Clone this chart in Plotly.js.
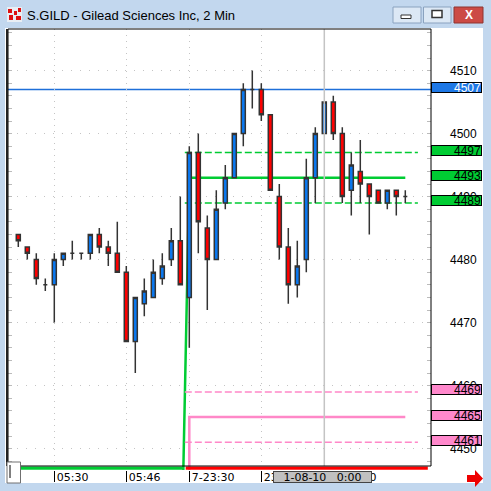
<!DOCTYPE html>
<html>
<head>
<meta charset="utf-8">
<script src="https://cdn.plot.ly/plotly-3.0.1.min.js"></script>
<style>
  html, body { margin: 0; padding: 0; background: #c2d7ee; }
  #chart { width: 491px; height: 491px; }
</style>
</head>
<body>
<div id="chart"></div>
<script>
// 2-minute bars, S.GILD
const barOpen  = [4484,4482,4480,4476,4476,4480,4481,4481,4481,4484,4482,4481,4478,4467,4473,4474,4477,4480,4483,4474,4497,4485,4480,4489,4493,4500,4507,4507,4503,4490,4482,4476,4480,4493,4500,4505,4500,4491,4494,4492,4491,4489,4491,4490];
const barHigh  = [4484,4482,4481,4477,4481,4481,4483,4481,4484,4485,4483,4486,4479,4474,4477,4480,4481,4485,4490,4498,4500,4487,4491,4495,4500,4508,4510,4508,4503,4492,4485,4483,4496,4501,4505,4506,4501,4497,4499,4492,4491,4491,4491,4491];
const barLow   = [4482,4480,4476,4475,4470,4479,4480,4480,4480,4481,4479,4478,4467,4462,4471,4474,4476,4479,4476,4466,4481,4472,4480,4488,4493,4498,4504,4502,4491,4480,4473,4474,4478,4489,4500,4499,4489,4487,4489,4484,4489,4488,4487,4489];
const barClose = [4483,4481,4477,4476,4480,4481,4481,4481,4484,4482,4481,4478,4467,4474,4475,4478,4479,4483,4476,4497,4486,4480,4488,4493,4500,4507,4507,4503,4491,4482,4476,4479,4493,4500,4505,4500,4490,4495,4492,4490,4489,4491,4490,4490];
const barIndex = barOpen.map((_, i) => i);

// time axis
const timeTickIndex = [4, 12, 19, 27, 34];
const timeTickText  = ['05:30', '05:46', '7-23:30', '23:46', '10-00:00'];

// price axis
const priceTicks = [4450, 4460, 4470, 4480, 4490, 4500, 4510];
const lastPrice = 4507;

// green channel (price scale) and pink channel (second scale)
const greenLevels = [4497, 4493, 4489];
const pinkLevels  = [4469, 4465, 4461];
const greenMidX = [18, 19, 43];
const greenMidY = [4423, 4493, 4493];
const pinkMidX  = [19, 19, 43];
const pinkMidY  = [4420, 4465, 4465];
const channelSpan = [18.5, 44.4];

// crosshair
const crossIndex = 34;
const crossLabel = '1-08-10&nbsp;&nbsp;&nbsp;0:00';

// session strip under the plot
const sessionStart = [-0.2, 18.6];
const sessionEnd   = [18.4, 45.5];
const sessionColor = ['#00cc33', '#ff0000'];

// ---- geometry helpers (pixel -> paper) ----
const W = 491, H = 491;
const M = { l: 8, r: 60, t: 29, b: 21 };
const PW = W - M.l - M.r, PH = H - M.t - M.b;
const fx = x => (x - M.l) / PW;
const fy = y => (H - M.b - y) / PH;
const PX = 6.3; // pixels per price unit
const yTop = 4507 + (89.5 - M.t) / PX;
const yBot = yTop - PH / PX;
const xLeft = -10.3 / 9, xRight = (431 - 18.3) / 9;

function rect(x0, y0, x1, y1, fill, line, lw, layer) {
  return { type: 'rect', xref: 'paper', yref: 'paper',
    x0: fx(x0), x1: fx(x1), y0: fy(y1), y1: fy(y0),
    fillcolor: fill, line: { color: line || 'rgba(0,0,0,0)', width: lw || 0 }, layer: layer || 'above' };
}
function seg(x0, y0, x1, y1, color, width, layer) {
  return { type: 'line', xref: 'paper', yref: 'paper',
    x0: fx(x0), x1: fx(x1), y0: fy(y0), y1: fy(y1),
    line: { color: color, width: width }, layer: layer || 'above' };
}
function poly(pts, fill) {
  const d = pts.map((p, i) => (i ? 'L' : 'M') + fx(p[0]) + ',' + fy(p[1])).join(' ') + ' Z';
  return { type: 'path', xref: 'paper', yref: 'paper', path: d, fillcolor: fill, line: { width: 0 }, layer: 'above' };
}
const priceText = v => String(v);

// ---- traces ----
function lineTrace(x, y, color, width, dash, yaxis) {
  return { type: 'scatter', mode: 'lines', x: x, y: y, yaxis: yaxis || 'y',
    line: { color: color, width: width, dash: dash || 'solid' }, hoverinfo: 'skip', showlegend: false };
}
const traces = [];
traces.push(lineTrace(channelSpan, [pinkLevels[0], pinkLevels[0]], '#ff88c8', 1.5, '7px,3px', 'y2'));
traces.push(lineTrace(channelSpan, [pinkLevels[2], pinkLevels[2]], '#ff88c8', 1.5, '7px,3px', 'y2'));
traces.push(lineTrace(pinkMidX, pinkMidY, '#ff88c8', 2.5, 'solid', 'y2'));
traces.push(lineTrace(channelSpan, [greenLevels[0], greenLevels[0]], '#00cc33', 1.5, '7px,3px'));
traces.push(lineTrace(channelSpan, [greenLevels[2], greenLevels[2]], '#00cc33', 1.5, '7px,3px'));
traces.push(lineTrace(greenMidX, greenMidY, '#00cc33', 2.5, 'solid'));
// candles sit on an overlay of the price axis so they draw above the channel lines
traces.push({
  type: 'candlestick', x: barIndex, yaxis: 'y3',
  open: barOpen, high: barHigh, low: barLow, close: barClose,
  increasing: { fillcolor: '#0a78f0', line: { color: '#333333', width: 1.5 } },
  decreasing: { fillcolor: '#ff0000', line: { color: '#333333', width: 1.5 } },
  whiskerwidth: 0, hoverinfo: 'skip', showlegend: false
});

// ---- shapes ----
const shapes = [];
// window client area
shapes.push(rect(5, 28, 483, 483, '#ffffff', null, 0, 'below'));
// last price line
shapes.push({ type: 'line', xref: 'paper', yref: 'y', x0: 0, x1: 1, y0: lastPrice, y1: lastPrice,
  line: { color: '#1e6fd9', width: 1.5 }, layer: 'below' });
// crosshair
shapes.push({ type: 'line', xref: 'x', yref: 'paper', x0: crossIndex, x1: crossIndex, y0: fy(466), y1: 1,
  line: { color: '#c4c4c4', width: 1.5 }, layer: 'above' });
// session strip
sessionStart.forEach((s, i) => {
  shapes.push({ type: 'line', xref: 'x', yref: 'paper', x0: s, x1: sessionEnd[i], y0: fy(468.2), y1: fy(468.2),
    line: { color: sessionColor[i], width: 3.2 }, layer: 'above' });
});
// plot frame
shapes.push(rect(8, 29, 431, 466, 'rgba(0,0,0,0)', '#000000', 1, 'above'));
shapes.push(seg(7, 29, 7, 466, '#222222', 2));
// small box bottom-left with cursor
shapes.push(rect(7, 462, 20.5, 483, '#ffffff', '#707070', 1));
shapes.push(seg(10, 465, 10, 478, '#000000', 1));
// scroll arrow bottom-right
shapes.push(poly([[467, 475], [475, 475], [475, 470], [483, 478.5], [475, 487], [475, 482], [467, 482]], '#ee0000'));
// title bar buttons
shapes.push(rect(393, 7, 421, 23, '#dce8f5', '#8aa2bf', 1));
shapes.push(rect(401, 15, 411, 18.5, '#ffffff', '#333333', 1));
shapes.push(rect(423.5, 7, 451, 23, '#dce8f5', '#8aa2bf', 1));
shapes.push(rect(432, 10.5, 442, 17.5, '#ffffff', '#333333', 1.5));
shapes.push(rect(454, 7, 483, 23, '#cc4b45', '#8e3531', 1));
// window icon
shapes.push(rect(7, 7, 22, 22, '#e9eef4', null, 0));
shapes.push(rect(8, 9, 12, 13, '#dd1111', null, 0));
shapes.push(rect(14, 11, 17, 15, '#dd1111', null, 0));
shapes.push(rect(18, 8, 21, 12, '#dd1111', null, 0));
shapes.push(rect(9, 15, 13, 20, '#dd1111', null, 0));
shapes.push(rect(16, 16, 21, 20, '#dd1111', null, 0));

// ---- annotations ----
const annotations = [];
function priceBox(v, yref, fill, textColor) {
  annotations.push({ xref: 'paper', x: 1, xanchor: 'left', yref: yref, y: v, yanchor: 'middle', yshift: 2,
    text: priceText(v), showarrow: false, width: 49, height: 9, align: 'right',
    bgcolor: fill, bordercolor: '#000000', borderwidth: 1, borderpad: 0,
    font: { family: 'Liberation Sans, Arial, sans-serif', size: 12, color: textColor } });
}
priceBox(lastPrice, 'y', '#1e78e6', '#ffffff');
greenLevels.forEach(v => priceBox(v, 'y', '#00cc33', '#000000'));
pinkLevels.forEach(v => priceBox(v, 'y2', '#ff88cc', '#000000'));
// crosshair time box
annotations.push({ xref: 'x', x: crossIndex, xanchor: 'center', xshift: -1.5, yref: 'paper', y: fy(477), yanchor: 'middle',
  text: crossLabel, showarrow: false, width: 97, height: 10, bgcolor: '#c0c0c0', bordercolor: '#444444',
  borderwidth: 1, borderpad: 0, font: { family: 'DejaVu Sans, sans-serif', size: 11, color: '#000000' } });
// close glyph
annotations.push({ xref: 'paper', yref: 'paper', x: fx(468.5), y: fy(15), xanchor: 'center', yanchor: 'middle',
  text: '<b>X</b>', showarrow: false, font: { family: 'Liberation Sans, Arial, sans-serif', size: 12, color: '#ffffff' } });

const layout = {
  width: W, height: H,
  margin: M,
  paper_bgcolor: '#c2d7ee',
  plot_bgcolor: '#ffffff',
  showlegend: false,
  hovermode: false,
  dragmode: false,
  boxgap: 0.36,
  title: {
    text: 'S.GILD - Gilead Sciences Inc, 2 Min',
    xref: 'container', yref: 'container',
    x: 27 / W, xanchor: 'left', y: 1 - 15 / H, yanchor: 'middle',
    font: { family: 'Liberation Sans, Arial, sans-serif', size: 13, color: '#000000' }
  },
  xaxis: {
    range: [xLeft, xRight], automargin: false, fixedrange: true,
    rangeslider: { visible: false },
    tickmode: 'array', tickvals: timeTickIndex, ticktext: timeTickText,
    ticks: 'outside', ticklen: 11, tickwidth: 1, tickcolor: '#000000',
    ticklabelposition: 'outside right', ticklabelstandoff: -3, ticklabelshift: 2,
    tickfont: { family: 'DejaVu Sans, sans-serif', size: 11, color: '#000000' },
    showgrid: true, gridcolor: '#c4c4c4', griddash: '1px,5px', gridwidth: 1,
    showline: false, zeroline: false
  },
  yaxis: {
    range: [yBot, yTop], side: 'right', automargin: false, fixedrange: true,
    tickmode: 'array', tickvals: priceTicks, ticktext: priceTicks.map(priceText),
    ticks: 'inside', ticklen: 4, tickcolor: '#bbbbbb', mirror: 'allticks',
    minor: { tickmode: 'linear', tick0: 4450, dtick: 2, ticks: 'inside', ticklen: 4, tickcolor: '#bbbbbb', showgrid: false },
    ticklabelstandoff: 18,
    tickfont: { family: 'Liberation Sans, Arial, sans-serif', size: 12, color: '#000000' },
    showgrid: true, gridcolor: '#c4c4c4', griddash: '1px,8px', gridwidth: 1,
    showline: false, zeroline: false
  },
  yaxis2: {
    range: [yBot + 10, yTop + 10], overlaying: 'y', side: 'right', visible: false, fixedrange: true
  },
  yaxis3: {
    range: [yBot, yTop], overlaying: 'y', side: 'right', visible: false, fixedrange: true
  },
  shapes: shapes,
  annotations: annotations
};

Plotly.newPlot('chart', traces, layout, { staticPlot: true, displayModeBar: false });
</script>
</body>
</html>
